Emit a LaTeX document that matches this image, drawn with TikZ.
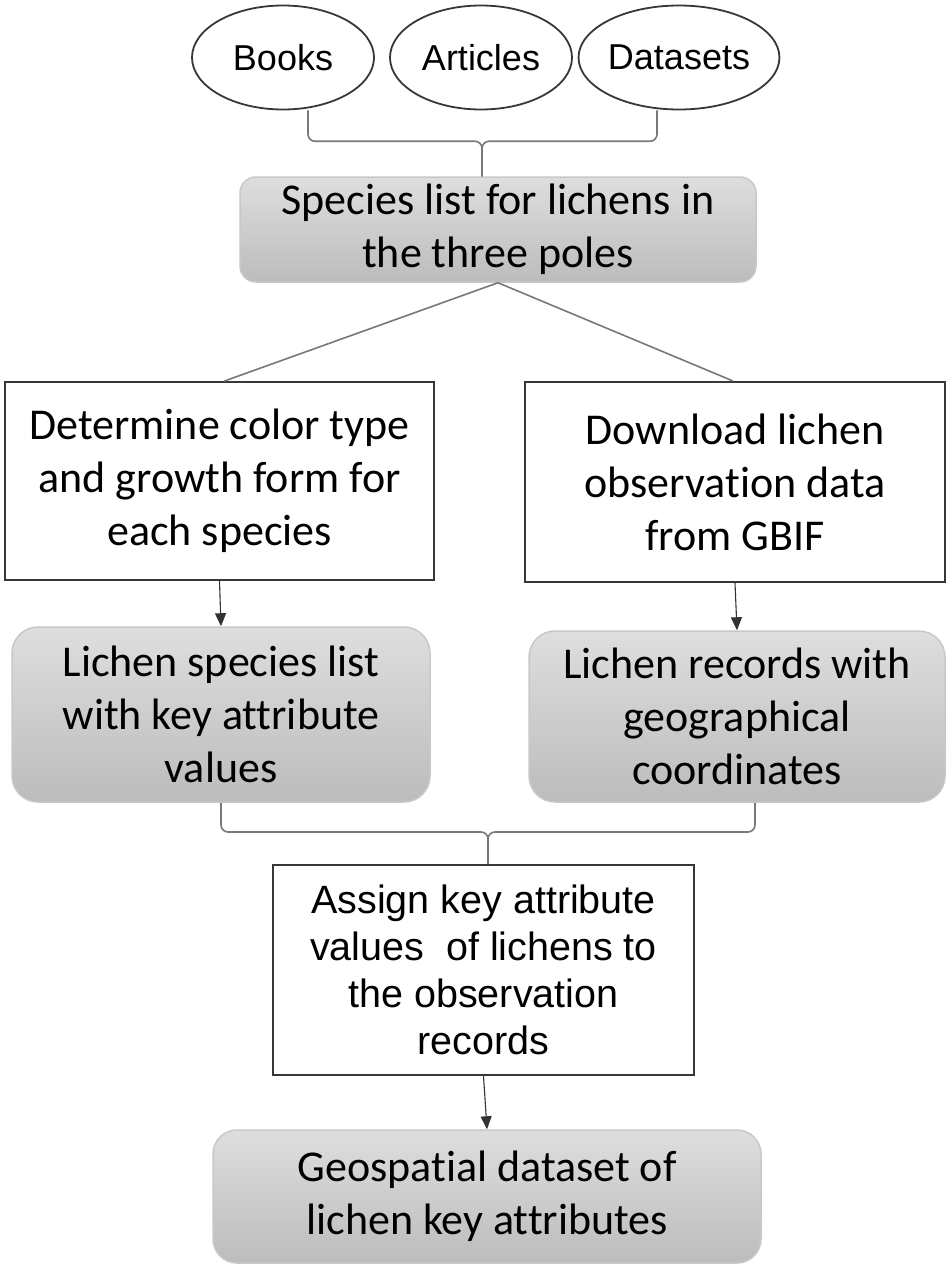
\documentclass[tikz,border=0pt]{standalone}
\usepackage{fontspec}
\setmainfont{Carlito}[Ligatures=NoCommon]
\newfontfamily\arialf{Liberation Sans}
\usetikzlibrary{shapes.geometric,arrows.meta}
\definecolor{boxline}{RGB}{55,55,55}
\definecolor{conn}{RGB}{120,120,120}
\definecolor{gtop}{RGB}{222,222,222}
\definecolor{gbot}{RGB}{188,188,188}
\definecolor{gedge}{RGB}{200,200,200}
\tikzset{
  src/.style={ellipse,draw=boxline,line width=1.8pt,inner sep=0pt,minimum width=182pt,minimum height=104pt,font=\arialf\fontsize{36}{40}\selectfont},
  whitebox/.style={rectangle,draw=boxline,line width=2pt,fill=white,inner sep=0pt,align=center,font=\fontsize{44}{53}\selectfont},
  graybox/.style={rectangle,rounded corners=26pt,draw=gedge,line width=1.5pt,top color=gtop,bottom color=gbot,inner sep=0pt,align=center,font=\fontsize{44}{53}\selectfont},
  conline/.style={draw=conn,line width=1.6pt},
  bracepath/.style={draw=conn,line width=1.6pt,rounded corners=7pt},
  flowarrow/.style={draw=black!80,line width=1.1pt,-{Triangle[length=13pt,width=11pt]}}
}
\begin{document}
\begin{tikzpicture}[x=1pt,y=-1pt]
\useasboundingbox (0,0) rectangle (950,1269);
% sources
\node[src] (books) at (283,57.5) {Books};
\node[src] (articles) at (481,57.5) {Articles};
\node[src] (datasets) at (679,57.5) {Datasets};
% species list
\node[graybox,rounded corners=16pt,minimum width=516pt,minimum height=105pt] (species) at (498,229.5)
  {Species list for lichens in\\the three poles};
% process boxes
\node[whitebox,minimum width=429pt,minimum height=198pt] (det) at (219.5,481)
  {Determine color type\\and growth form for\\each species};
\node[whitebox,minimum width=420pt,minimum height=200pt] (dl) at (735,482)
  {Download lichen\\observation data\\from GBIF};
\node[graybox,minimum width=418pt,minimum height=175pt] (lsp) at (221,714.5)
  {Lichen species list\\with key attribute\\values};
\node[graybox,minimum width=416pt,minimum height=171pt] (rec) at (737,716.5)
  {Lichen records with\\geographical\\coordinates};
\node[whitebox,minimum width=421pt,minimum height=210pt,font=\arialf\fontsize{39.5}{47}\selectfont] (assign) at (483.5,970)
  {Assign key attribute\\values \ of lichens to\\the observation\\records};
\node[graybox,rounded corners=24pt,minimum width=548pt,minimum height=133pt] (geo) at (487,1196.5)
  {Geospatial dataset of\\lichen key attributes};
% top brace
\path[bracepath] ([xshift=25pt]books.south) |- ([xshift=-16pt,yshift=35pt]species.north) -- ([xshift=-16pt]species.north);
\path[bracepath] ([xshift=-22pt]datasets.south) |- ([xshift=-16pt,yshift=35pt]species.north) -- ([xshift=-16pt]species.north);
% split lines
\path[conline] (species.south) -- ([xshift=5pt]det.north);
\path[conline] (species.south) -- ([xshift=-2pt]dl.north);
% arrows
\draw[flowarrow] (det.south) -- (lsp.north);
\draw[flowarrow] (dl.south) -- (rec.north);
% bottom brace
\path[bracepath] (lsp.south) |- ([xshift=4.5pt,yshift=32pt]assign.north) -- ([xshift=4.5pt]assign.north);
\path[bracepath] ([xshift=18pt]rec.south) |- ([xshift=4.5pt,yshift=32pt]assign.north) -- ([xshift=4.5pt]assign.north);
\draw[flowarrow] (assign.south) -- (geo.north);
\end{tikzpicture}
\end{document}
